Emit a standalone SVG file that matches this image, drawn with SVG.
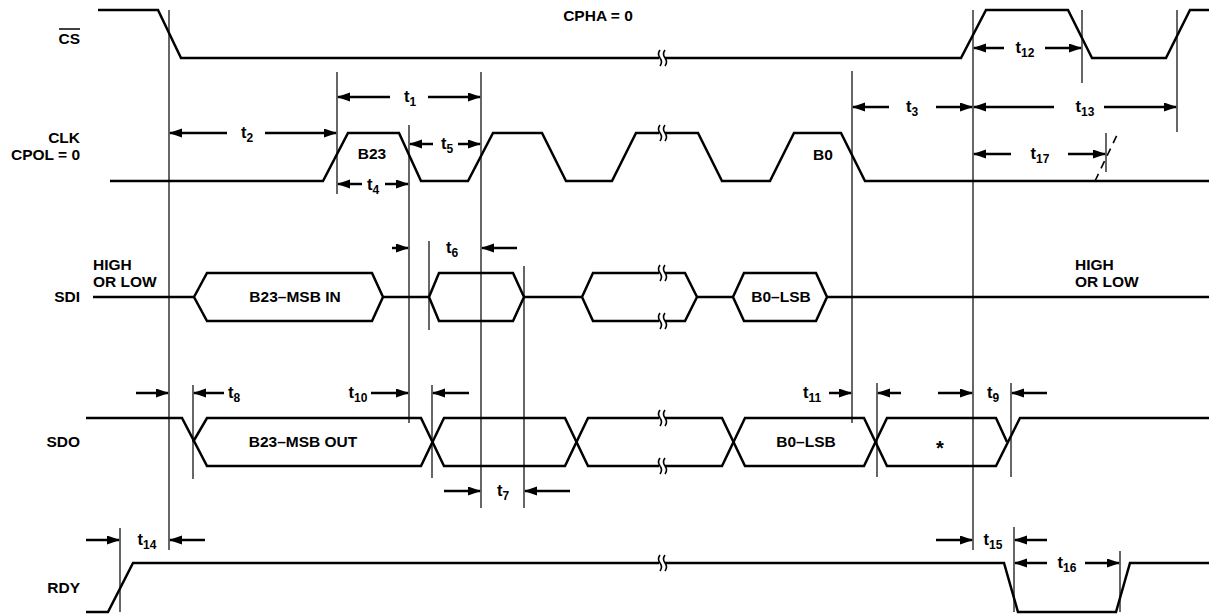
<svg xmlns="http://www.w3.org/2000/svg" width="1209" height="616" viewBox="0 0 1209 616">
<style>
text{font-family:"Liberation Sans",Arial,sans-serif;font-weight:bold;font-size:15.5px;fill:#000}
.t{font-size:16.5px}
.w{fill:none;stroke:#000;stroke-width:2.5;stroke-linejoin:miter}
.v{fill:none;stroke:#000;stroke-width:1.2}
.a{fill:none;stroke:#000;stroke-width:2.5;marker-end:url(#ah)}
.m{text-anchor:middle}
.e{text-anchor:end}
.s{font-size:12px}
.brk{fill:none;stroke:#000;stroke-width:1.6}
.gap{fill:#fff;stroke:none}
</style>
<defs>
<marker id="ah" markerUnits="userSpaceOnUse" markerWidth="13" markerHeight="10" refX="12" refY="4.5" orient="auto">
<path d="M0,0 L13,4.5 L0,9 Z" fill="#000"/>
</marker>
<g id="brk">
<rect class="gap" x="-3" y="-4" width="6" height="8"/>
<path class="brk" d="M-2,-8 q-3,4 0,8 q3,4 0,8"/>
<path class="brk" d="M3,-8 q-3,4 0,8 q3,4 0,8"/>
</g>
</defs>
<rect width="1209" height="616" fill="#fff"/>

<g id="connectors">
<line class="v" x1="169" y1="10" x2="169" y2="550"/>
<line class="v" x1="337" y1="72" x2="337" y2="194"/>
<line class="v" x1="409" y1="125" x2="409" y2="423"/>
<line class="v" x1="481" y1="72" x2="481" y2="508"/>
<line class="v" x1="429" y1="241" x2="429" y2="330"/>
<line class="v" x1="524" y1="266" x2="524" y2="508"/>
<line class="v" x1="193" y1="385" x2="193" y2="479"/>
<line class="v" x1="432" y1="385" x2="432" y2="478"/>
<line class="v" x1="852" y1="71" x2="852" y2="423"/>
<line class="v" x1="877" y1="383" x2="877" y2="477"/>
<line class="v" x1="1011" y1="383" x2="1011" y2="477"/>
<line class="v" x1="973" y1="10" x2="973" y2="550"/>
<line class="v" x1="1082" y1="10" x2="1082" y2="83"/>
<line class="v" x1="1177" y1="10" x2="1177" y2="132"/>
<line class="v" x1="1106" y1="133" x2="1106" y2="172"/>
<line class="v" x1="120" y1="528" x2="120" y2="612"/>
<line class="v" x1="1014" y1="527" x2="1014" y2="612"/>
<line class="v" x1="1120" y1="551" x2="1120" y2="612"/>
<path d="M1095,181 L1118,133" fill="none" stroke="#000" stroke-width="1.6" stroke-dasharray="8,6"/>

<line class="a" x1="390" y1="97" x2="338" y2="97"/>
<line class="a" x1="428" y1="97" x2="480" y2="97"/>
<line class="a" x1="227" y1="133" x2="170" y2="133"/>
<line class="a" x1="265" y1="133" x2="336" y2="133"/>
<line class="a" x1="362" y1="184" x2="338" y2="184"/>
<line class="a" x1="385" y1="184" x2="408" y2="184"/>
<line class="a" x1="433" y1="144" x2="410" y2="144"/>
<line class="a" x1="458" y1="144" x2="480" y2="144"/>
<line class="a" x1="889" y1="107" x2="853" y2="107"/>
<line class="a" x1="936" y1="107" x2="972" y2="107"/>
<line class="a" x1="1054" y1="107" x2="974" y2="107"/>
<line class="a" x1="1104" y1="107" x2="1176" y2="107"/>
<line class="a" x1="1004" y1="48" x2="974" y2="48"/>
<line class="a" x1="1045" y1="48" x2="1081" y2="48"/>
<line class="a" x1="1011" y1="154" x2="974" y2="154"/>
<line class="a" x1="1068" y1="154" x2="1105" y2="154"/>
<line class="a" x1="392" y1="248" x2="408" y2="248"/>
<line class="a" x1="517" y1="248" x2="482" y2="248"/>
<line class="a" x1="136" y1="393" x2="168" y2="393"/>
<line class="a" x1="224" y1="393" x2="194" y2="393"/>
<line class="a" x1="371" y1="393" x2="408" y2="393"/>
<line class="a" x1="469" y1="393" x2="433" y2="393"/>
<line class="a" x1="829" y1="393" x2="851" y2="393"/>
<line class="a" x1="901" y1="393" x2="878" y2="393"/>
<line class="a" x1="938" y1="393" x2="972" y2="393"/>
<line class="a" x1="1047" y1="393" x2="1012" y2="393"/>
<line class="a" x1="444" y1="491" x2="480" y2="491"/>
<line class="a" x1="570" y1="491" x2="525" y2="491"/>
<line class="a" x1="86" y1="540" x2="119" y2="540"/>
<line class="a" x1="205" y1="540" x2="170" y2="540"/>
<line class="a" x1="936" y1="540" x2="972" y2="540"/>
<line class="a" x1="1047" y1="540" x2="1015" y2="540"/>
<line class="a" x1="1047" y1="563" x2="1015" y2="563"/>
<line class="a" x1="1085" y1="563" x2="1119" y2="563"/>
</g>

<g id="labels">
<text class="m t" x="410" y="102">t<tspan class="s" dy="4">1</tspan></text>
<text class="m t" x="247" y="138">t<tspan class="s" dy="4">2</tspan></text>
<text class="m t" x="373" y="190">t<tspan class="s" dy="4">4</tspan></text>
<text class="m t" x="447" y="149">t<tspan class="s" dy="4">5</tspan></text>
<text class="m t" x="912" y="112">t<tspan class="s" dy="4">3</tspan></text>
<text class="m t" x="1085" y="112">t<tspan class="s" dy="4">13</tspan></text>
<text class="m t" x="1025" y="53">t<tspan class="s" dy="4">12</tspan></text>
<text class="m t" x="1040" y="159">t<tspan class="s" dy="4">17</tspan></text>
<text class="m t" x="452" y="253">t<tspan class="s" dy="4">6</tspan></text>
<text class="t" x="228" y="398">t<tspan class="s" dy="4">8</tspan></text>
<text class="m t" x="358" y="398">t<tspan class="s" dy="4">10</tspan></text>
<text class="m t" x="812" y="398">t<tspan class="s" dy="4">11</tspan></text>
<text class="m t" x="993" y="398">t<tspan class="s" dy="4">9</tspan></text>
<text class="m t" x="503" y="496">t<tspan class="s" dy="4">7</tspan></text>
<text class="m t" x="147" y="545">t<tspan class="s" dy="4">14</tspan></text>
<text class="m t" x="993" y="545">t<tspan class="s" dy="4">15</tspan></text>
<text class="m t" x="1067" y="568">t<tspan class="s" dy="4">16</tspan></text>
<text class="m" x="598" y="21">CPHA = 0</text>
</g>

<g id="cs">
<text class="e" x="80" y="44">CS</text>
<line x1="59" y1="29" x2="80" y2="29" stroke="#000" stroke-width="1.5"/>
<path class="w" d="M98,10 H158 L181,58 H961 L986,10 H1068 L1092,58 H1166 L1190,10 H1209"/>
<use href="#brk" x="662" y="58"/>
</g>

<g id="clk">
<text class="e" x="80" y="143">CLK</text>
<text class="e" x="80" y="160">CPOL = 0</text>
<path class="w" d="M110,181 H323 L348,133 H399 L421,181 H468 L493,133 H542 L566,181 H612 L636,133 H698 L722,181 H770 L794,133 H841 L865,181 H1209"/>
<use href="#brk" x="662" y="133"/>
<text class="m" x="372" y="159">B23</text>
<text class="m" x="823" y="160">B0</text>
</g>

<g id="sdi">
<text class="e" x="80" y="302">SDI</text>
<text x="93" y="270">HIGH</text>
<text x="93" y="287">OR LOW</text>
<text x="1075" y="270">HIGH</text>
<text x="1075" y="287">OR LOW</text>
<path class="w" d="M93,297 H194 M383,297 H429 M524,297 H582 M697,297 H733 M827,297 H1209"/>
<path class="w" d="M194,297 L207,273 H372 L383,297 L372,321 H207 Z"/>
<path class="w" d="M429,297 L439,273 H513 L524,297 L513,321 H439 Z"/>
<path class="w" d="M582,297 L593,273 H685 L697,297 L685,321 H593 Z"/>
<path class="w" d="M733,297 L744,273 H816 L827,297 L816,321 H744 Z"/>
<use href="#brk" x="662" y="273"/>
<use href="#brk" x="662" y="321"/>
<text class="m" x="295" y="302">B23–MSB IN</text>
<text class="m" x="781" y="302">B0–LSB</text>
</g>

<g id="sdo">
<text class="e" x="80" y="447">SDO</text>
<path class="w" d="M86,418 H182 L207,466 H421 L444,418 H565 L588,466 H722 L745,418 H864 L887,466 H996 L1020,418 H1209"/>
<path class="w" d="M193,442 L207,418 H421 L444,466 H565 L588,418 H722 L745,466 H864 L887,418 H996 L1007,442"/>
<use href="#brk" x="662" y="418"/>
<use href="#brk" x="662" y="466"/>
<text class="m" x="303" y="447">B23–MSB OUT</text>
<text class="m" x="806" y="447">B0–LSB</text>
<text class="m" x="940" y="455" style="font-size:20px">*</text>
</g>

<g id="rdy">
<text class="e" x="80" y="593">RDY</text>
<path class="w" d="M86,612 H108 L133,563 H1004 L1018,612 H1116 L1130,563 H1209"/>
<use href="#brk" x="662" y="563"/>
</g>
</svg>
